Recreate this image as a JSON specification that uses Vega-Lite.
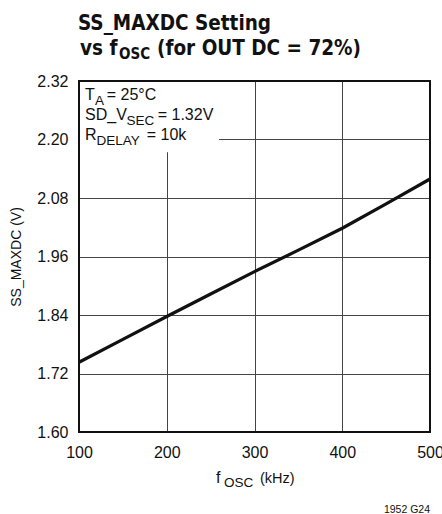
{
  "$schema": "https://vega.github.io/schema/vega-lite/v6.json",
  "width": 351,
  "height": 351,
  "autosize": {"type": "none"},
  "padding": {"left": 79, "top": 81, "right": 12, "bottom": 82},
  "background": "white",
  "config": {
    "view": {"stroke": null},
    "axis": {
      "labelFont": "Liberation Sans",
      "labelFontSize": 16,
      "labelColor": "#111",
      "ticks": false,
      "domain": false,
      "grid": true,
      "gridColor": "#444",
      "gridWidth": 1,
      "gridOpacity": 1
    }
  },
  "datasets": {
    "curve": [
      {"fosc": 100, "v": 1.743},
      {"fosc": 150, "v": 1.790},
      {"fosc": 200, "v": 1.837},
      {"fosc": 250, "v": 1.883},
      {"fosc": 300, "v": 1.929},
      {"fosc": 350, "v": 1.973},
      {"fosc": 400, "v": 2.018},
      {"fosc": 450, "v": 2.068},
      {"fosc": 500, "v": 2.119}
    ],
    "one": [{"k": 1}]
  },
  "data": {"name": "one"},
  "encoding": {
    "x": {
      "type": "quantitative",
      "scale": {"domain": [100, 500], "nice": false, "zero": false},
      "axis": {"values": [100, 200, 300, 400, 500], "title": null, "labelPadding": 12, "labelFlush": false, "labelOverlap": false}
    },
    "y": {
      "type": "quantitative",
      "scale": {"domain": [1.6, 2.32], "nice": false, "zero": false},
      "axis": {
        "values": [1.6, 1.72, 1.84, 1.96, 2.08, 2.2, 2.32],
        "format": ".2f",
        "labelPadding": 11,
        "labelFlush": false,
        "labelOverlap": false,
        "title": "SS_MAXDC (V)",
        "titleFont": "Liberation Sans",
        "titleFontSize": 14,
        "titleFontWeight": "normal",
        "titleColor": "#111",
        "titlePadding": 13
      }
    }
  },
  "layer": [
    {
      "mark": {"type": "rect", "fill": "white", "stroke": null},
      "encoding": {"x": {"datum": 100}, "x2": {"datum": 259.5}, "y": {"datum": 2.174}, "y2": {"datum": 2.32}}
    },
    {
      "data": {"name": "curve"},
      "mark": {"type": "line", "color": "#111", "strokeWidth": 3.2},
      "encoding": {"x": {"field": "fosc"}, "y": {"field": "v"}}
    },
    {
      "mark": {"type": "rect", "filled": false, "stroke": "#111", "strokeWidth": 2},
      "encoding": {"x": {"datum": 100}, "x2": {"datum": 500}, "y": {"datum": 1.6}, "y2": {"datum": 2.32}}
    },
    {
      "mark": {"type": "text", "text": "SS_MAXDC Setting", "align": "left", "baseline": "alphabetic", "font": "'DejaVu Sans Condensed', Roboto", "fontSize": 20.5, "fontWeight": "bold", "color": "#111"},
      "encoding": {"x": {"datum": 98.86}, "y": {"datum": 2.4246}}
    },
    {
      "mark": {"type": "text", "text": "vs f", "align": "left", "baseline": "alphabetic", "font": "'DejaVu Sans Condensed', Roboto", "fontSize": 20.5, "fontWeight": "bold", "color": "#111"},
      "encoding": {"x": {"datum": 101.14}, "y": {"datum": 2.3733}}
    },
    {
      "mark": {"type": "text", "text": "OSC", "align": "left", "baseline": "alphabetic", "font": "'DejaVu Sans Condensed', Roboto", "fontSize": 15, "fontWeight": "bold", "color": "#111"},
      "encoding": {"x": {"datum": 145.58}, "y": {"datum": 2.3651}}
    },
    {
      "mark": {"type": "text", "text": "(for OUT DC = 72%)", "align": "left", "baseline": "alphabetic", "font": "'DejaVu Sans Condensed', Roboto", "fontSize": 20.5, "fontWeight": "bold", "color": "#111"},
      "encoding": {"x": {"datum": 188.89}, "y": {"datum": 2.3733}}
    },
    {
      "mark": {"type": "text", "text": "T", "align": "left", "baseline": "alphabetic", "font": "Liberation Sans", "fontSize": 16, "color": "#111"},
      "encoding": {"x": {"datum": 106.84}, "y": {"datum": 2.2816}}
    },
    {
      "mark": {"type": "text", "text": "A", "align": "left", "baseline": "alphabetic", "font": "Liberation Sans", "fontSize": 13.5, "color": "#111"},
      "encoding": {"x": {"datum": 118.23}, "y": {"datum": 2.2714}}
    },
    {
      "mark": {"type": "text", "text": "= 25°C", "align": "left", "baseline": "alphabetic", "font": "Liberation Sans", "fontSize": 16, "color": "#111"},
      "encoding": {"x": {"datum": 131.57}, "y": {"datum": 2.2816}}
    },
    {
      "mark": {"type": "text", "text": "SD_V", "align": "left", "baseline": "alphabetic", "font": "Liberation Sans", "fontSize": 16, "color": "#111"},
      "encoding": {"x": {"datum": 106.84}, "y": {"datum": 2.2406}}
    },
    {
      "mark": {"type": "text", "text": "SEC", "align": "left", "baseline": "alphabetic", "font": "Liberation Sans", "fontSize": 13.5, "color": "#111"},
      "encoding": {"x": {"datum": 154.13}, "y": {"datum": 2.2304}}
    },
    {
      "mark": {"type": "text", "text": "= 1.32V", "align": "left", "baseline": "alphabetic", "font": "Liberation Sans", "fontSize": 16, "color": "#111"},
      "encoding": {"x": {"datum": 189.69}, "y": {"datum": 2.2406}}
    },
    {
      "mark": {"type": "text", "text": "R", "align": "left", "baseline": "alphabetic", "font": "Liberation Sans", "fontSize": 16, "color": "#111"},
      "encoding": {"x": {"datum": 106.84}, "y": {"datum": 2.1996}}
    },
    {
      "mark": {"type": "text", "text": "DELAY", "align": "left", "baseline": "alphabetic", "font": "Liberation Sans", "fontSize": 13.5, "color": "#111"},
      "encoding": {"x": {"datum": 119.94}, "y": {"datum": 2.1893}}
    },
    {
      "mark": {"type": "text", "text": "= 10k", "align": "left", "baseline": "alphabetic", "font": "Liberation Sans", "fontSize": 16, "color": "#111"},
      "encoding": {"x": {"datum": 177.15}, "y": {"datum": 2.1996}}
    },
    {
      "mark": {"type": "text", "text": "f", "align": "left", "baseline": "alphabetic", "font": "Liberation Sans", "fontSize": 16, "color": "#111"},
      "encoding": {"x": {"datum": 256.1}, "y": {"datum": 1.4954}}
    },
    {
      "mark": {"type": "text", "text": "OSC", "align": "left", "baseline": "alphabetic", "font": "Liberation Sans", "fontSize": 13.5, "color": "#111"},
      "encoding": {"x": {"datum": 265.2}, "y": {"datum": 1.4872}}
    },
    {
      "mark": {"type": "text", "text": "(kHz)", "align": "left", "baseline": "alphabetic", "font": "Liberation Sans", "fontSize": 14.5, "color": "#111"},
      "encoding": {"x": {"datum": 306.27}, "y": {"datum": 1.4954}}
    },
    {
      "mark": {"type": "text", "text": "1952 G24", "align": "right", "baseline": "alphabetic", "font": "Liberation Sans", "fontSize": 10.5, "color": "#111"},
      "encoding": {"x": {"datum": 500}, "y": {"datum": 1.4338}}
    }
  ]
}
